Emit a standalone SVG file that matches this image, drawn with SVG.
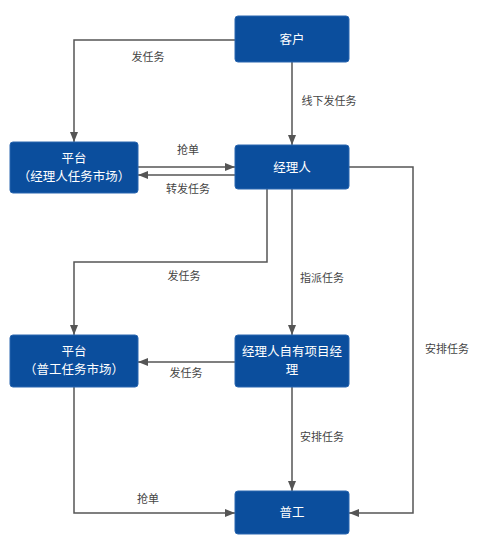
<svg xmlns="http://www.w3.org/2000/svg" width="484" height="545" viewBox="0 0 484 545">
<style>
.node{fill:#0b4e9d;stroke:#2a67b0;stroke-width:1}
.nt{font-family:"Noto Sans CJK SC","Liberation Sans",sans-serif;font-size:12.5px;fill:#ffffff;text-anchor:middle}
.lbl{font-family:"Noto Sans CJK SC","Liberation Sans",sans-serif;font-size:11px;fill:#444444;text-anchor:middle}
.edge{fill:none;stroke:#555555;stroke-width:1.5}
</style>
<defs>
<marker id="arr" viewBox="0 0 10 10" refX="10" refY="5" markerWidth="10" markerHeight="10" markerUnits="userSpaceOnUse" orient="auto">
<path d="M0,1 L10,5 L0,9 Z" fill="#555555"/>
</marker>
</defs>
<rect width="484" height="545" fill="#ffffff"/>
<g id="connectors">
<path class="edge" d="M235,40 H74 V142" marker-end="url(#arr)"/>
<path class="edge" d="M292,62 V145" marker-end="url(#arr)"/>
<path class="edge" d="M138,167 H235" marker-end="url(#arr)"/>
<path class="edge" d="M235,175 H138" marker-end="url(#arr)"/>
<path class="edge" d="M267,189 V262 H74 V335" marker-end="url(#arr)"/>
<path class="edge" d="M292,189 V335" marker-end="url(#arr)"/>
<path class="edge" d="M235,362 H138" marker-end="url(#arr)"/>
<path class="edge" d="M349,167 H413 V513 H349" marker-end="url(#arr)"/>
<path class="edge" d="M292,387 V491" marker-end="url(#arr)"/>
<path class="edge" d="M74,387 V513 H235" marker-end="url(#arr)"/>
<text class="lbl" x="148" y="61">发任务</text>
<text class="lbl" x="329" y="105">线下发任务</text>
<text class="lbl" x="188" y="154">抢单</text>
<text class="lbl" x="188" y="193">转发任务</text>
<text class="lbl" x="184" y="280">发任务</text>
<text class="lbl" x="322" y="282">指派任务</text>
<text class="lbl" x="186" y="377">发任务</text>
<text class="lbl" x="447" y="353">安排任务</text>
<text class="lbl" x="322" y="441">安排任务</text>
<text class="lbl" x="148" y="503">抢单</text>
</g>
<g id="kehu">
<rect class="node" x="235" y="16" width="114" height="46" rx="3"/>
<text class="nt" x="292" y="44">客户</text>
</g>
<g id="pingtai1">
<rect class="node" x="10" y="142" width="128" height="51" rx="3"/>
<text class="nt" x="74" y="163">平台</text>
<text class="nt" x="74" y="181">（经理人任务市场）</text>
</g>
<g id="jingliren">
<rect class="node" x="235" y="145" width="114" height="44" rx="3"/>
<text class="nt" x="292" y="172">经理人</text>
</g>
<g id="pingtai2">
<rect class="node" x="10" y="335" width="128" height="52" rx="3"/>
<text class="nt" x="74" y="356">平台</text>
<text class="nt" x="74" y="374">（普工任务市场）</text>
</g>
<g id="xiangmujingli">
<rect class="node" x="235" y="335" width="114" height="52" rx="3"/>
<text class="nt" x="292" y="356">经理人自有项目经</text>
<text class="nt" x="292" y="374">理</text>
</g>
<g id="pugong">
<rect class="node" x="235" y="491" width="114" height="43" rx="3"/>
<text class="nt" x="292" y="517">普工</text>
</g>
</svg>
